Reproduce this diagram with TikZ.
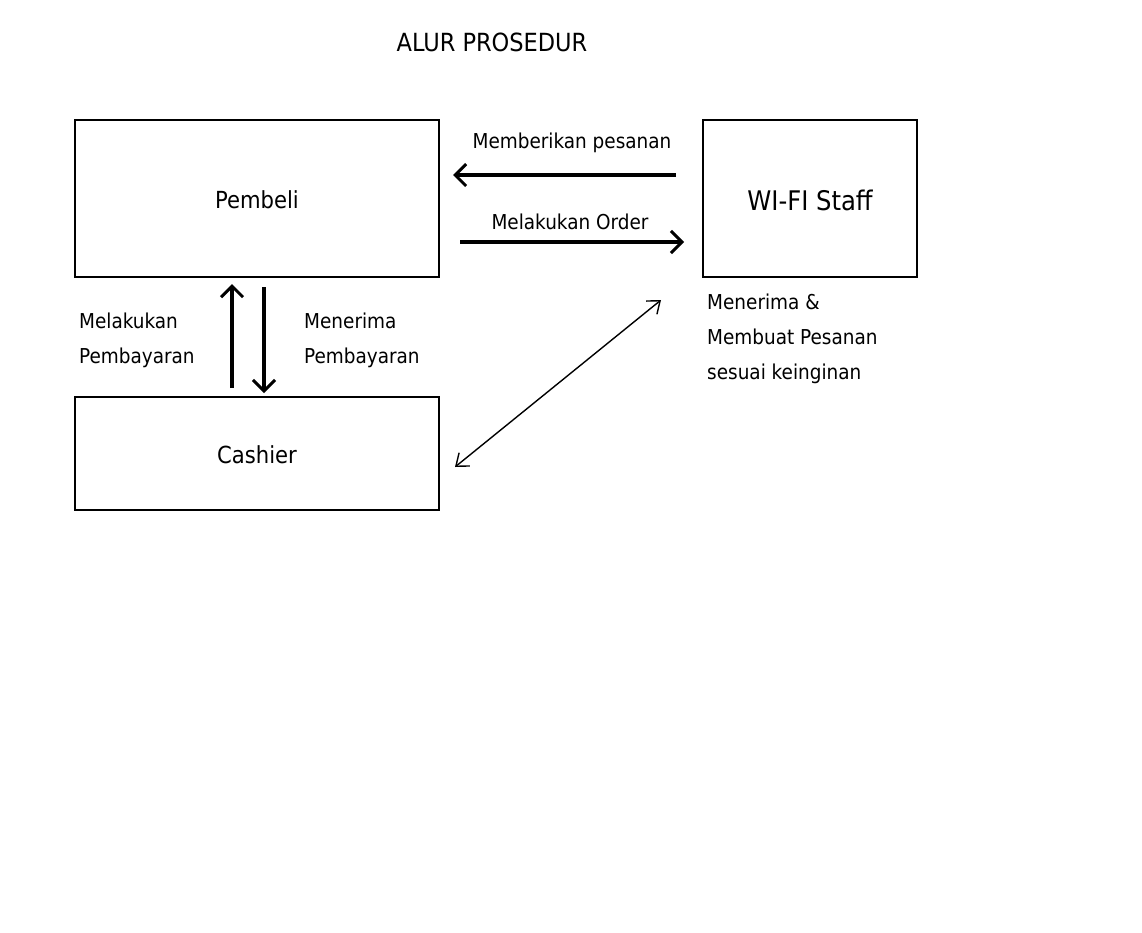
\documentclass[tikz,border=0pt]{standalone}
\usepackage{fontspec}
\setmainfont{DejaVu Sans Condensed}
\usetikzlibrary{arrows.meta}

\begin{document}
\begin{tikzpicture}[x=1pt, y=-1pt,
    kotak/.style={draw, line width=1.3pt, minimum width=364pt, inner sep=0pt},
    teks/.style={font=\fontsize{20.5}{35}\selectfont, inner sep=0pt},
    panah/.style={line width=3.3pt, -{Straight Barb[length=11pt, width=22pt, line width=3pt]}},
    tipis/.style={line width=1.4pt, {Straight Barb[length=11pt, width=17pt]}-{Straight Barb[length=11pt, width=17pt]}}]
    \useasboundingbox (0,0) rectangle (1142,932);

    % judul
    \node[teks, font=\fontsize{25}{30}\selectfont] (judul) at (492,42) {ALUR PROSEDUR};

    % kotak-kotak
    \node[kotak, minimum height=157pt] (pembeli) at (257,198.5) {};
    \node[font=\fontsize{23.5}{28}\selectfont] (tpembeli) at (257,200) {Pembeli};
    \node[kotak, minimum width=214pt, minimum height=157pt] (staff) at (810,198.5) {};
    \node[font=\fontsize{27}{32}\selectfont] (tstaff) at (810,200) {WI-FI Staff};
    \node[kotak, minimum height=113pt] (cashier) at (257,453.5) {};
    \node[font=\fontsize{23.5}{28}\selectfont] (tcashier) at (257,455) {Cashier};

    % titik ujung panah
    \coordinate (a1) at (676,175);
    \coordinate (a2) at (453,175);
    \coordinate (b1) at (460,242);
    \coordinate (b2) at (684,242);
    \coordinate (c1) at (232,388);
    \coordinate (c2) at (232,284);
    \coordinate (d1) at (264,287);
    \coordinate (d2) at (264,393);
    \coordinate (e1) at (455,467);
    \coordinate (e2) at (661,300);

    % panah pesanan
    \draw[panah] (a1) -- (a2);
    \node[teks] (lpesan) at (572,143) {Memberikan pesanan};
    \draw[panah] (b1) -- (b2);
    \node[teks] (lorder) at (570,222) {Melakukan Order};

    % panah pembayaran
    \draw[panah] (c1) -- (c2);
    \draw[panah] (d1) -- (d2);
    \node[teks, anchor=north west, align=left] (lbayar) at (79,313) {Melakukan\\Pembayaran};
    \node[teks, anchor=north west, align=left] (lterima) at (304,313) {Menerima\\Pembayaran};

    % panah cashier - staff
    \draw[tipis] (e1) -- (e2);
    \node[teks, anchor=north west, align=left] (lbuat) at (707,294) {Menerima \&\\Membuat Pesanan\\sesuai keinginan};
\end{tikzpicture}
\end{document}
